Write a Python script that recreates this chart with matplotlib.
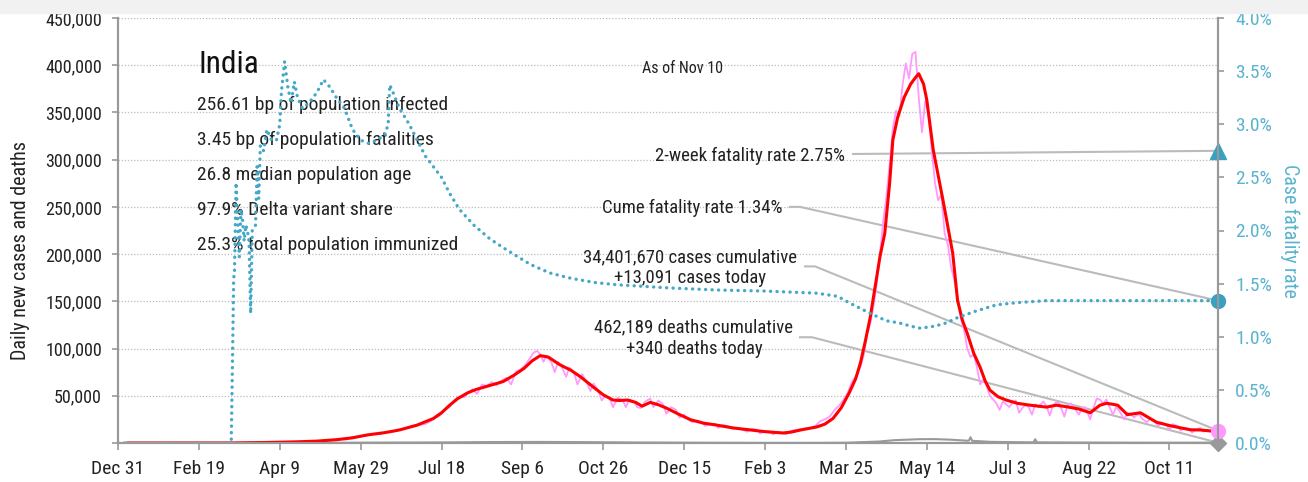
import numpy as np
import matplotlib
matplotlib.use("Agg")
import matplotlib.pyplot as plt
from matplotlib.patches import Rectangle

plt.rcParams['font.family'] = ['Roboto Condensed', 'Archivo Narrow', 'PT Sans Narrow',
                               'IBM Plex Sans Condensed', 'DejaVu Sans']

# day index counted from Dec 31 2019
tick_days = [0, 50, 100, 150, 200, 250, 300, 350, 400, 450, 500, 550, 600, 650]
tick_labels = ["Dec 31", "Feb 19", "Apr 9", "May 29", "Jul 18", "Sep 6", "Oct 26",
               "Dec 15", "Feb 3", "Mar 25", "May 14", "Jul 3", "Aug 22", "Oct 11"]

# daily new cases
daily_days = [6, 60, 75, 90, 100, 110, 117, 123, 130, 137, 141, 145, 150, 154, 158, 162, 166, 170,
              174, 178, 182, 186, 190, 193, 196, 199, 202, 205, 208, 211, 214, 216, 219, 222, 225,
              228, 231, 234, 237, 240, 243, 246, 249, 252, 255, 257, 259, 261, 263, 265, 268, 270,
              272, 274, 277, 279, 282, 284, 287, 290, 292, 294, 297, 299, 301, 304, 306, 309, 312,
              314, 316, 319, 321, 323, 326, 329, 331, 334, 337, 339, 342, 345, 347, 350, 352, 355,
              358, 361, 363, 366, 369, 371, 374, 377, 380, 383, 386, 389, 392, 395, 397, 400, 403,
              405, 408, 411, 413, 416, 419, 422, 425, 428, 431, 434, 437, 440, 443, 446, 449, 451,
              453, 455, 457, 459, 461, 463, 465, 467, 469, 471, 473, 475, 477, 479, 481, 483, 485,
              487, 489, 491, 493, 495, 497, 499, 501, 503, 505, 507, 509, 511, 513, 515, 517, 519,
              521, 523, 525, 527, 529, 531, 533, 535, 537, 539, 541, 543, 545, 547, 549, 551, 553,
              555, 557, 559, 561, 563, 565, 567, 569, 572, 574, 576, 578, 580, 582, 585, 587, 589,
              592, 594, 596, 598, 601, 603, 605, 607, 609, 611, 613, 615, 617, 619, 622, 624, 626,
              628, 631, 633, 636, 638, 641, 643, 645, 648, 650, 652, 655, 657, 659, 662, 664, 666,
              669, 671, 673, 676, 678, 680]
daily_cases = [0, 10, 100, 600, 900, 1500, 1000, 1900, 3000, 3900, 3600, 6500, 7000, 8000, 9900,
               9500, 11500, 12000, 14500, 15400, 17000, 19000, 20000, 23000, 26500, 29000, 34900,
               38000, 45700, 49000, 48500, 52000, 57000, 52000, 62000, 60000, 64500, 61000, 66000,
               69000, 62000, 75800, 78000, 83000, 90600, 95700, 97600, 94000, 86000, 92000, 85000,
               75000, 86000, 82000, 70000, 80000, 74000, 62000, 73000, 63000, 55000, 63000, 55000,
               45000, 50000, 47000, 38000, 48000, 45000, 38000, 46000, 44000, 38000, 37000, 44000,
               47000, 38000, 45000, 41000, 31000, 38000, 35000, 27000, 30000, 26000, 22000, 24000,
               22000, 18000, 20000, 20000, 16000, 19000, 18000, 15000, 16000, 14000, 12000, 15000,
               14000, 10000, 13000, 12000, 9100, 11600, 11000, 9000, 13000, 14000, 14500, 15500,
               16000, 18000, 23000, 25000, 28000, 35000, 40000, 47000, 53000, 62000, 68000, 72000,
               81000, 93000, 115000, 126000, 145000, 168000, 200000, 234000, 261000, 295000,
               333000, 352000, 346000, 379000, 402000, 386000, 412000, 414000, 366000, 329000,
               362000, 348000, 311000, 276000, 257000, 263000, 222000, 210000, 186000, 173000,
               152000, 132000, 120000, 100000, 91000, 94000, 80000, 62000, 67000, 60000, 50000,
               46000, 42000, 35000, 44000, 41000, 38000, 43000, 45000, 32000, 37000, 40000, 38000,
               30000, 41000, 38000, 44000, 39000, 29000, 40000, 43000, 42000, 28000, 40000, 42000,
               35000, 30000, 37000, 38000, 25000, 37000, 47000, 46000, 42000, 46000, 38000, 30000,
               38000, 34000, 25000, 32000, 31000, 27000, 31000, 26000, 22000, 26000, 23000, 18000,
               22000, 19000, 14000, 20000, 18000, 13000, 16000, 15000, 11000, 14000, 16000, 12000,
               14000, 12000, 11500, 13091]

# 7-day average of new cases
avg_days = [6, 70, 90, 110, 123, 135, 145, 154, 165, 174, 185, 195, 200, 205, 210, 216, 221, 226,
            232, 238, 245, 251, 256, 261, 266, 273, 280, 286, 294, 300, 306, 310, 315, 320, 324,
            329, 334, 339, 346, 354, 362, 370, 380, 391, 400, 411, 416, 422, 432, 437, 442, 447,
            452, 456, 459, 462, 465, 468, 471, 474, 477, 479, 482, 486, 490, 493, 495, 498, 500,
            504, 510, 516, 519, 522, 525, 529, 533, 536, 539, 544, 549, 556, 564, 574, 580, 586,
            594, 601, 604, 607, 611, 615, 618, 621, 624, 628, 632, 637, 642, 650, 657, 663, 669,
            675, 680]
avg_cases = [0, 50, 500, 1200, 2000, 3500, 5500, 8500, 11000, 13800, 19000, 26000, 32000, 40000,
             47000, 53000, 56500, 59000, 62000, 65000, 72000, 79000, 87000, 92500, 91000, 83000,
             77000, 70000, 59000, 51000, 45500, 45000, 45500, 43000, 39000, 43000, 40500, 37000,
             31000, 24600, 21000, 19000, 16000, 13800, 12000, 10600, 11500, 13800, 17000, 20000,
             26000, 37000, 53000, 68000, 85000, 108000, 133000, 165000, 197000, 222000, 275000,
             321000, 345000, 366000, 380000, 387000, 391000, 380000, 363000, 310000, 257000,
             201000, 151000, 130000, 116000, 95000, 80000, 66000, 56000, 49000, 45500, 42000,
             40000, 38000, 40000, 38500, 36000, 32000, 36000, 40000, 42000, 41000, 40000, 35000,
             30000, 31000, 32000, 27000, 22000, 18500, 16000, 14000, 13800, 12800, 11500]

# daily deaths
death_days = [0, 70, 120, 160, 200, 230, 260, 290, 320, 360, 400, 430, 450, 470, 480, 495, 505,
              515, 525, 526, 527, 528, 540, 560, 566, 567, 568, 600, 640, 680]
deaths = [0, 0, 100, 400, 600, 1000, 1150, 900, 550, 300, 120, 120, 300, 1500, 3000, 4000, 4100,
          3500, 2400, 2500, 6100, 2300, 1200, 800, 700, 4000, 700, 450, 300, 340]

# cumulative case fatality rate, percent
cfr_days = [0, 70, 71, 71.5, 72, 73, 74, 75, 76, 77, 78, 79, 80, 81, 82, 83, 85, 86, 87, 88, 90,
            92, 95, 98, 100, 101, 103, 105, 107, 109, 111, 114, 118, 123, 127, 131, 135, 140, 145,
            150, 155, 160, 165, 167, 168, 170, 174, 180, 185, 190, 195, 200, 205, 211, 220, 230,
            240, 255, 267, 280, 295, 308, 340, 370, 400, 432, 445, 452, 465, 475, 483, 490, 496,
            505, 512, 519, 530, 543, 555, 574, 600, 680]
cfr = [0, 0, 1.0, 1.55, 1.6, 2.45, 2.1, 1.75, 2.2, 2.1, 1.9, 2.05, 2.0, 1.9, 1.22, 2.0, 2.05, 2.6,
       2.3, 2.8, 2.75, 2.95, 2.85, 2.85, 3.0, 3.3, 3.59, 3.35, 3.2, 3.4, 3.25, 3.15, 3.2, 3.3, 3.42,
       3.35, 3.25, 3.15, 2.95, 2.85, 2.82, 2.85, 2.9, 3.0, 3.37, 3.3, 3.15, 3.0, 2.85, 2.7, 2.6, 2.5,
       2.35, 2.2, 2.05, 1.92, 1.82, 1.68, 1.6, 1.55, 1.51, 1.49, 1.46, 1.44, 1.43, 1.41, 1.38, 1.32,
       1.22, 1.15, 1.13, 1.10, 1.08, 1.10, 1.13, 1.18, 1.24, 1.30, 1.32, 1.34, 1.34, 1.34]

last_day = 680
two_week_cfr = 2.75
cume_cfr = 1.34
cases_today = 13091
deaths_today = 340

stats = ["256.61 bp of population infected", "3.45 bp of population fatalities",
         "26.8 median population age", "97.9% Delta variant share",
         "25.3% total population immunized"]

teal = "#45a8c6"
teal_text = "#5ab3d0"
pink = "#ff99ff"
red = "#ff0000"
grey = "#999999"
ann = "#bbbbbb"
dark = "#222222"

W, H = 1308, 482
fig = plt.figure(figsize=(W / 100, H / 100), dpi=100)
fig.patches.append(Rectangle((0, 1 - 13 / H), 1, 13 / H, transform=fig.transFigure,
                             color="#f1f1f1", zorder=0))
ax = fig.add_axes([118 / W, 1 - 443 / H, 1100 / W, 425 / H])
ax2 = ax.twinx()

ymax = 450000
pct_max = 4.0
scale = ymax / pct_max  # cases per percentage point on the shared scale

ax.set_xlim(0, last_day)
ax.set_ylim(0, ymax)
ax2.set_ylim(0, pct_max)

ax.set_yticks(np.arange(0, 450001, 50000))
ax.set_yticklabels([""] + [f"{v:,}" for v in range(50000, 450001, 50000)])
ax.grid(axis="y", color="#bbbbbb", linestyle=(0, (1, 1.5)), linewidth=0.9)
ax.set_axisbelow(True)
ax.set_xticks(tick_days)
ax.set_xticklabels(tick_labels)
ax2.set_yticks(np.arange(0, 4.01, 0.5))
ax2.set_yticklabels([f"{v:.1f}%" for v in np.arange(0, 4.01, 0.5)])

for a in (ax, ax2):
    a.spines["top"].set_visible(False)
    for s in ("left", "right", "bottom"):
        a.spines[s].set_color(grey)
        a.spines[s].set_linewidth(1.5)
ax.tick_params(axis="y", colors=grey, labelcolor=dark, labelsize=13, length=4.5, width=1.2, pad=7)
ax.tick_params(axis="x", colors=grey, labelcolor=dark, labelsize=14, length=5, width=1.2, pad=7)
ax2.tick_params(axis="y", colors=grey, labelcolor=teal_text, labelsize=14, length=4.5, width=1.2,
                pad=8)

fig.text(21 / W, 1 - 250 / H, "Daily new cases and deaths", fontsize=14.5, color=dark,
         rotation=90, ha="center", va="center")
fig.text(1290 / W, 1 - 231 / H, "Case fatality rate", fontsize=14.3, color=teal_text,
         rotation=270, ha="center", va="center")

# series
ax.plot(death_days, deaths, color=grey, lw=1.5, zorder=3)
ax.plot(daily_days, daily_cases, color=pink, lw=1.3, zorder=4)
ax.plot(avg_days, avg_cases, color=red, lw=2.2, zorder=5)
ax.plot(cfr_days, np.array(cfr) * scale, color=teal, lw=2.4,
        linestyle=(0, (0.05, 1.9)), dash_capstyle="round", zorder=6)

# end markers
ax.plot(last_day, deaths_today, marker="D", ms=8, color=grey, clip_on=False, zorder=8)
ax.plot(last_day, cases_today, marker="o", ms=10, color=pink, clip_on=False, zorder=8)
ax.plot(last_day, cume_cfr * scale, marker="o", ms=10, color="#3aa0c0", clip_on=False, zorder=8)
ax.plot(last_day, two_week_cfr * scale, marker="^", ms=11, color="#3aa0c0", clip_on=False,
        zorder=8)

# headline and stats block
ax.text(49.5, 401000, "India", fontsize=22.5, color="#111111", va="center", ha="left")
for i, line in enumerate(stats):
    ax.text(48.8, 358000 - i * 37000, line, fontsize=14, color=dark, va="center", ha="left")
ax.text(349, 397000, "As of Nov 10", fontsize=11.5, color=dark, va="center", ha="center")

# callouts
ax.text(449.4, 304000, f"2-week fatality rate {two_week_cfr:.2f}%", fontsize=13.5, color=dark,
        ha="right", va="center")
ax.plot([454.4, last_day], [306000, two_week_cfr * scale], color=ann, lw=1.5, zorder=2,
        clip_on=False)
ax.text(411, 249000, f"Cume fatality rate {cume_cfr:.2f}%", fontsize=13.5, color=dark,
        ha="right", va="center")
ax.plot([415.4, 421.6, last_day], [250000, 250000, cume_cfr * scale], color=ann, lw=1.5,
        zorder=2, clip_on=False)
ax.text(353.6, 186000, f"34,401,670 cases cumulative\n+{cases_today:,} cases today",
        fontsize=13.5, color=dark, ha="center", va="center", multialignment="center",
        linespacing=1.2)
ax.plot([424.7, 430.9, last_day], [187000, 187000, cases_today], color=ann, lw=1.5, zorder=2,
        clip_on=False)
ax.text(356, 111000, f"462,189 deaths cumulative\n+{deaths_today} deaths today",
        fontsize=13.5, color=dark, ha="center", va="center", multialignment="center",
        linespacing=1.2)
ax.plot([421.6, 429, last_day], [112000, 112000, deaths_today], color=ann, lw=1.5, zorder=2,
        clip_on=False)

fig.savefig("out.png", dpi=100)
